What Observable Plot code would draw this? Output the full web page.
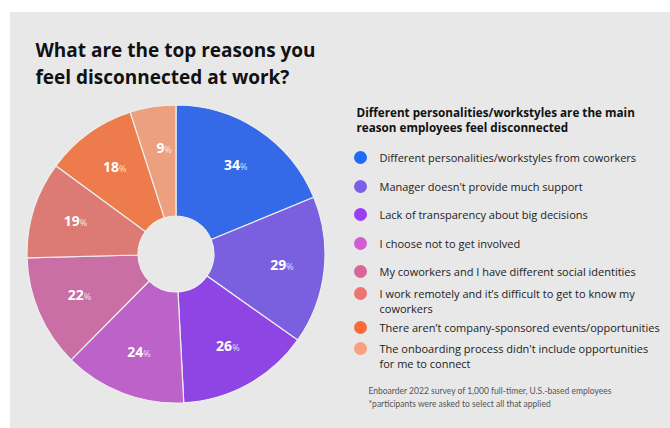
<!DOCTYPE html>
<html><head><meta charset="utf-8">
<script src="https://cdn.jsdelivr.net/npm/d3@7"></script>
<script src="https://cdn.jsdelivr.net/npm/@observablehq/plot@0.6"></script>
<style>
html,body{margin:0;padding:0;background:#fff;}
#wrap{position:relative;width:670px;height:428px;overflow:hidden;}
#panel{position:absolute;left:10px;top:12px;width:660px;height:416px;background:#e8e8e8;}
#chart{position:absolute;left:0;top:0;}
</style></head>
<body><div id="wrap"><div id="panel"></div><div id="chart"></div></div>
<script>
const title = ["What are the top reasons you", "feel disconnected at work?"];
const subtitle = ["Different personalities/workstyles are the main", "reason employees feel disconnected"];
const categories = [
  "Different personalities/workstyles from coworkers",
  "Manager doesn't provide much support",
  "Lack of transparency about big decisions",
  "I choose not to get involved",
  "My coworkers and I have different social identities",
  "I work remotely and it\u2019s difficult to get to know my\ncoworkers",
  "There aren\u2019t company-sponsored events/opportunities",
  "The onboarding process didn't include opportunities\nfor me to connect"
];
const values = [34, 29, 26, 24, 22, 19, 18, 9];
const sliceColors = ["#3469e8", "#7a5fdf", "#8e45e3", "#bc62c9", "#c96fa5", "#dc7b74", "#ed7b4c", "#eca07e"];
const legendColors = ["#1f6bfb", "#7b5fe6", "#9b3ff0", "#d05dd3", "#d7669f", "#ee7470", "#fc6a35", "#f8a07f"];
const footnote = ["Enboarder 2022 survey of 1,000 full-timer, U.S.-based employees", "*participants were asked to select all that applied"];

// layout
const cx = 176, cy = 254, rOuter = 149, rInner = 38, rLabel = 106;
const legendRowY = [157, 186, 214, 243, 271, 293, 327, 348];
const data = categories.map((c, i) => ({category: c, value: values[i], color: sliceColors[i], legend: legendColors[i]}));
const arcs = d3.pie().sort(null).value(d => d.value)(data);
arcs.forEach(a => {
  const m = (a.startAngle + a.endAngle) / 2;
  a.data.lx = cx + rLabel * Math.sin(m);
  a.data.ly = cy - rLabel * Math.cos(m);
});
data.forEach((d, i) => {
  const lines = d.category.split("\n").length;
  d.ly0 = legendRowY[i];
  d.ty = legendRowY[i] + (lines - 1) * 7.5;
});

function pieMark(index, scales) {
  const g = d3.create("svg:g").attr("transform", `translate(${scales.x(cx)},${scales.y(cy)})`);
  const arc = d3.arc().innerRadius(rInner).outerRadius(rOuter);
  g.selectAll("path").data(arcs).join("path")
    .attr("d", arc).attr("fill", d => d.data.color)
    .attr("stroke", "#eeeeee").attr("stroke-width", 1.2);
  return g.node();
}

const font = "'Open Sans', sans-serif";
const plot = Plot.plot({
  width: 670, height: 428, margin: 0,
  x: {domain: [0, 670], range: [0, 670], axis: null},
  y: {domain: [0, 428], range: [0, 428], axis: null},
  style: {background: "transparent", fontFamily: font},
  marks: [
    pieMark,
    Plot.text(data, {x: "lx", y: "ly", text: d => String(d.value), textAnchor: "end", dx: 4.5, dy: -1, fill: "white", fontSize: 14, fontWeight: 700}),
    Plot.text(data, {x: "lx", y: "ly", text: d => "%", textAnchor: "start", dx: 4.5, dy: 0.5, fill: "white", fillOpacity: 0.8, fontSize: 9, fontWeight: 400}),
    Plot.text(title, {x: () => 35, y: (d, i) => 50 + i * 27, text: d => d, textAnchor: "start", fontSize: 19, fontWeight: 700, fill: "#111"}),
    Plot.text(subtitle, {x: () => 356, y: (d, i) => 113 + i * 15, text: d => d, textAnchor: "start", fontSize: 11.7, fontWeight: 700, fill: "#111"}),
    Plot.dot(data, {x: () => 360, y: "ly0", r: 6.5, fill: "legend"}),
    Plot.text(data, {x: () => 379, y: "ty", text: "category", textAnchor: "start", lineHeight: 1.38, fontSize: 11, fill: "#222"}),
    Plot.text(footnote, {x: () => 368, y: (d, i) => 391 + i * 13, text: d => d, textAnchor: "start", fontSize: 8.5, fill: "#555", fontFamily: "Lato, sans-serif"})
  ]
});
document.getElementById("chart").appendChild(plot);
</script></body></html>
